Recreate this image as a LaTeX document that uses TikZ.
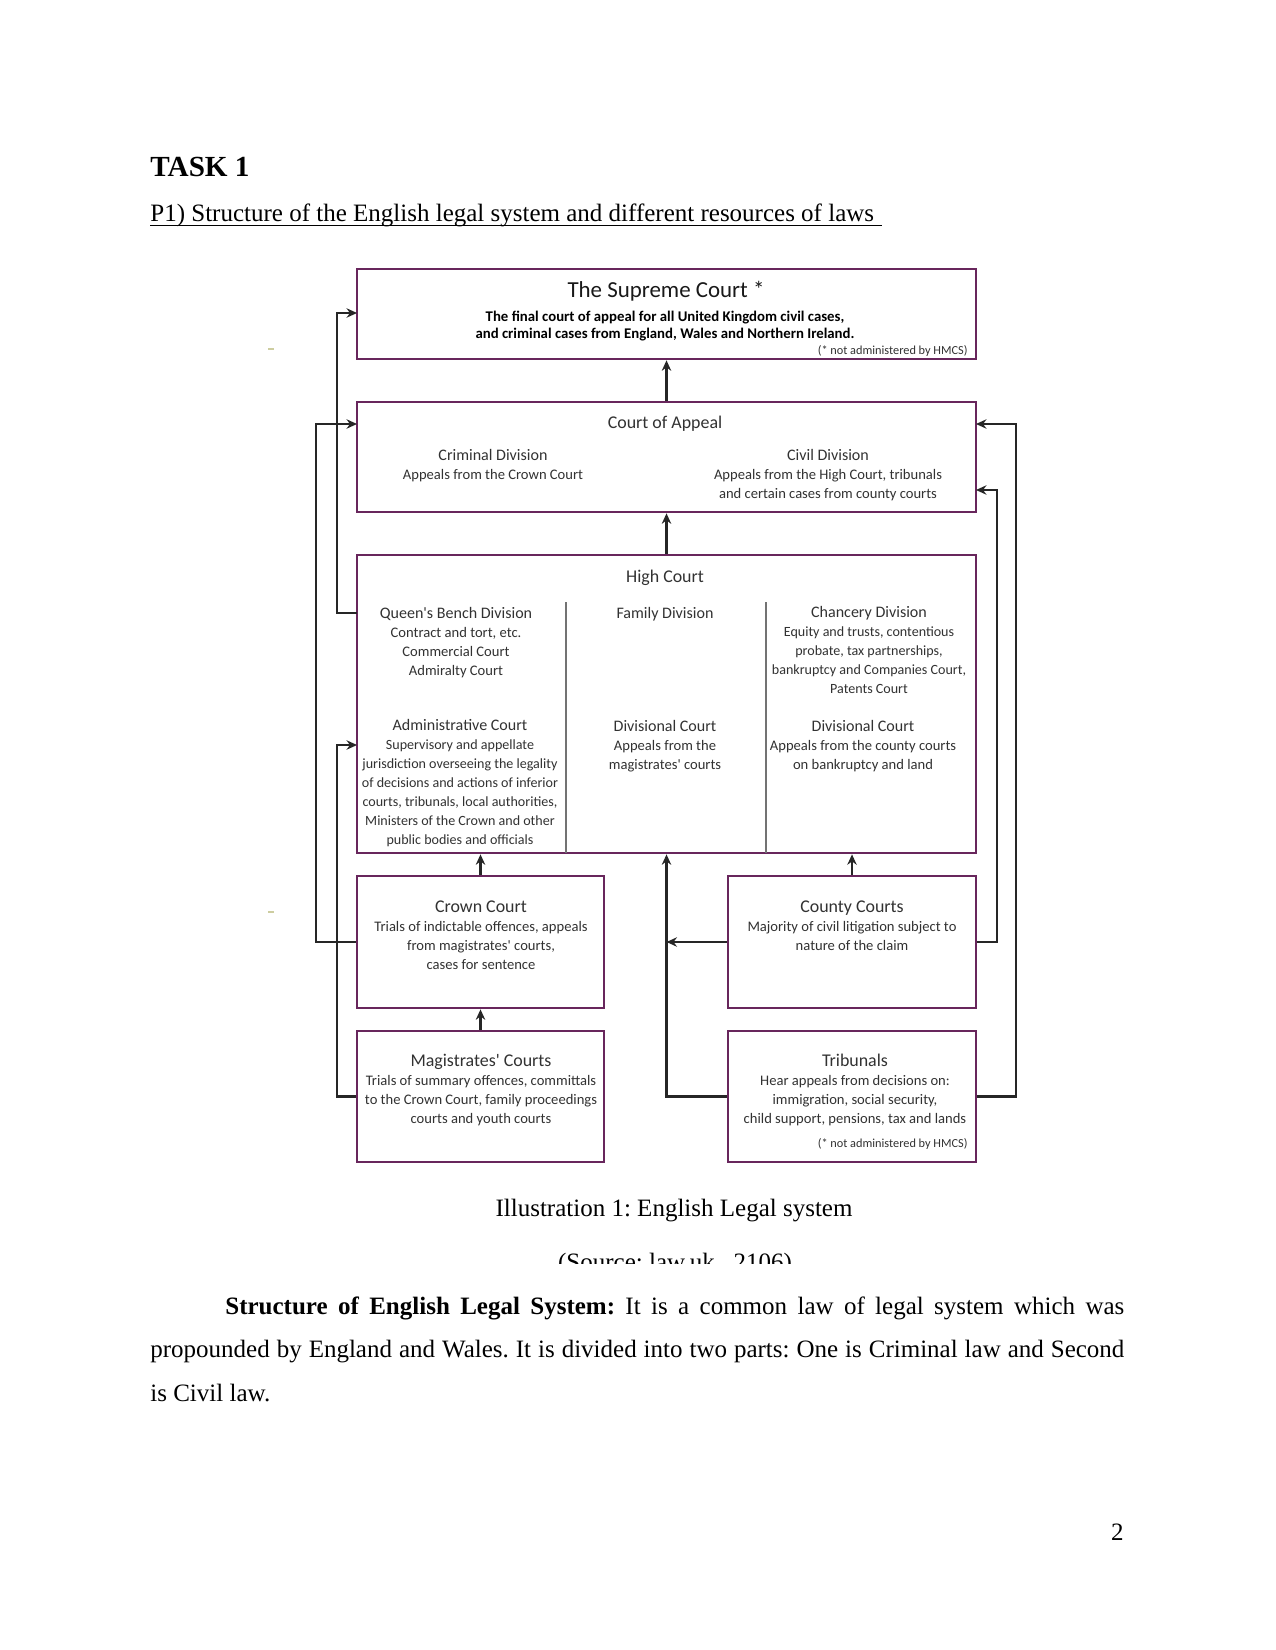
\documentclass[tikz,border=0pt]{standalone}
\usepackage{fontspec}
\setmainfont{Liberation Serif}
\newfontfamily\gill{Carlito}
\usetikzlibrary{arrows.meta,fit}
\definecolor{boxc}{RGB}{104,38,92}
\definecolor{txtc}{RGB}{50,50,50}
\definecolor{markc}{RGB}{205,205,160}
\newcommand{\subhd}{\fontsize{7.7}{9.1}\selectfont}
\newcommand{\boxhd}{\fontsize{8.6}{9.1}\selectfont}
\begin{document}
\frenchspacing
\begin{tikzpicture}[x=0.48pt,y=-0.48pt,
  box/.style={draw=boxc, line width=1.3pt, inner sep=0pt},
  arr/.style={draw=black!85, line width=1pt, -{Stealth[length=5pt,width=4.5pt]}},
  txt/.style={text=txtc, align=center, inner sep=0pt, font=\gill\fontsize{7}{9.1}\selectfont},
  txts/.style={txt, font=\gill\fontsize{6.75}{9.1}\selectfont},
  hd/.style={text=txtc, inner sep=0pt, font=\gill\fontsize{8.6}{9.1}\selectfont},
  tiny/.style={text=txtc, inner sep=0pt, anchor=east, font=\gill\fontsize{5.9}{6}\selectfont},
  divider/.style={draw=black!55, line width=0.5pt},
  doc/.style={inner sep=0pt, font=\frenchspacing\fontsize{12}{14}\selectfont}
]
\useasboundingbox (0,0) rectangle (1275,1650);
\fill[white] (0,0) rectangle (1275,1650);

% page text
\node[doc, anchor=base west, font=\bfseries\fontsize{14}{16}\selectfont] (task) at (150,177) {TASK 1};
\node[doc, anchor=base west] (p1) at (150,222) {P1) Structure of the English legal system and different resources of laws\hspace*{3.4pt}};
\draw[line width=0.6pt] ([yshift=-1.8pt]p1.base west) -- ([yshift=-1.8pt]p1.base east);

% marks
\draw[markc, line width=1pt] (268,349) -- (274,349);
\draw[markc, line width=1pt] (268,912) -- (274,912);

% boxes
\node[box, fit={(357,269) (976,359)}] (sup) {};
\node[box, fit={(357,402) (976,512)}] (coa) {};
\node[box, fit={(357,555) (976,853)}] (hc) {};
\node[box, fit={(357,876) (604,1008)}] (crown) {};
\node[box, fit={(728,876) (976,1008)}] (county) {};
\node[box, fit={(357,1031) (604,1162)}] (mag) {};
\node[box, fit={(728,1031) (976,1162)}] (trib) {};

% dividers in High Court
\draw[divider] (566,602) -- (566,853);
\draw[divider] (766,602) -- (766,853);

% texts
\node[text=black!90, inner sep=0pt, font=\gill\fontsize{11}{12}\selectfont] (supt) at (666,291) {The Supreme Court *};
\node[text=black, align=center, inner sep=0pt, font=\gill\bfseries\fontsize{7.1}{8.4}\selectfont] (supb) at (665,326) {The final court of appeal for all United Kingdom civil cases,\\and criminal cases from England, Wales and Northern Ireland.};
\node[tiny] (supn) at (968,351) {(* not administered by HMCS)};

\node[hd] (coat) at (665,424) {Court of Appeal};
\node[txt] (crim) at (493,466) {{\subhd Criminal Division}\\Appeals from the Crown Court};
\node[txt] (civ) at (828,475) {{\subhd Civil Division}\\Appeals from the High Court, tribunals\\and certain cases from county courts};

\node[hd] (hct) at (665,578) {High Court};
\node[txt] (qb) at (456,643) {{\subhd Queen's Bench Division}\\Contract and tort, etc.\\Commercial Court\\Admiralty Court};
\node[txt] (fam) at (665,614) {{\subhd Family Division}};
\node[txts] (chan) at (869,650) {{\subhd Chancery Division}\\Equity and trusts, contentious\\probate, tax partnerships,\\bankruptcy and Companies Court,\\Patents Court};
\node[txts] (adm) at (460,783) {{\subhd Administrative Court}\\Supervisory and appellate\\jurisdiction overseeing the legality\\of decisions and actions of inferior\\courts, tribunals, local authorities,\\Ministers of the Crown and other\\public bodies and officials};
\node[txt] (divm) at (665,746) {{\subhd Divisional Court}\\Appeals from the\\magistrates' courts};
\node[txt] (divr) at (863,746) {{\subhd Divisional Court}\\Appeals from the county courts\\on bankruptcy and land};

\node[txt] (crt) at (481,935) {{\boxhd Crown Court}\\Trials of indictable offences, appeals\\from magistrates' courts,\\cases for sentence};
\node[txt] (cot) at (852,926) {{\boxhd County Courts}\\Majority of civil litigation subject to\\nature of the claim};
\node[txt] (mat) at (481,1090) {{\boxhd Magistrates' Courts}\\Trials of summary offences, committals\\to the Crown Court, family proceedings\\courts and youth courts};
\node[txt] (trt) at (855,1090) {{\boxhd Tribunals}\\Hear appeals from decisions on:\\immigration, social security,\\child support, pensions, tax and lands};
\node[tiny] (trn) at (968,1144) {(* not administered by HMCS)};

% coordinates
\coordinate (colA) at (316,0);
\coordinate (colB) at (337,0);
\coordinate (colC) at (997,0);
\coordinate (colD) at (1016,0);
\coordinate (supL) at (357,313);
\coordinate (coaL) at (357,424);
\coordinate (hcL1) at (357,613);
\coordinate (hcL2) at (357,745);
\coordinate (coaR1) at (976,424);
\coordinate (coaR2) at (976,490);

% connectors
\draw[arr] (coa.north) -- (sup.south);
\draw[arr] (hc.north) -- (coa.south);
\draw[arr] (crown.north) -- (crown.north |- hc.south);
\draw[arr] (county.north) -- (county.north |- hc.south);
\draw[arr] (mag.north) -- (crown.south);
\draw[arr] (trib.west) -| (hc.south);
\draw[arr] (county.west) -- (county.west -| hc.south);
\draw[arr] (crown.west) -- (crown.west -| colA) |- (coaL);
\draw[arr] (hcL1) -- (hcL1 -| colB) |- (supL);
\draw[arr] (mag.west) -- (mag.west -| colB) |- (hcL2);
\draw[arr] (county.east) -- (county.east -| colC) |- (coaR2);
\draw[arr] (trib.east) -- (trib.east -| colD) |- (coaR1);

% caption
\node[doc, anchor=base] (cap) at (674,1216) {Illustration 1: English Legal system};
\begin{scope}
\clip (0,0) rectangle (1275,1263);
\node[doc, anchor=base] (src) at (675,1270) {(Source: law.uk., 2106)};
\end{scope}

% paragraph
\node[anchor=base west, text width=467.5pt, align=justify, inner sep=0pt, font=\frenchspacing\fontsize{12}{21.1}\selectfont] (para) at (150,1314) {\hspace*{36pt}\textbf{Structure of English Legal System:} It is a common law of legal system which was\linebreak propounded by England and Wales. It is divided into two parts: One is Criminal law and Second\linebreak is Civil law.};

\node[doc, anchor=base east] (pg) at (1124,1540) {2};
\end{tikzpicture}
\end{document}
